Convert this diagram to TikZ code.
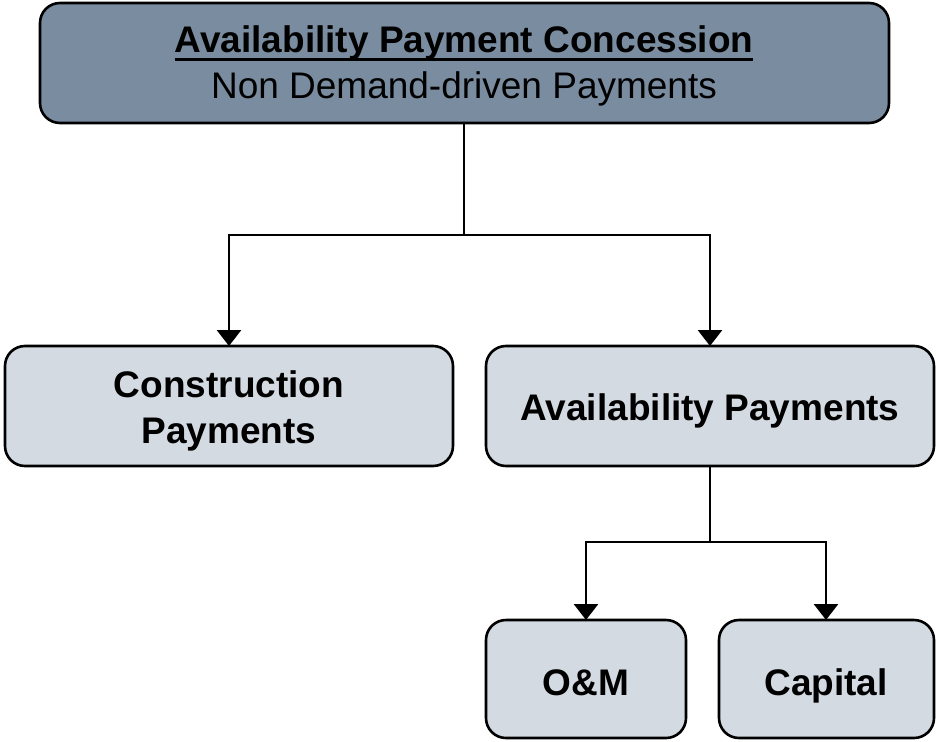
\documentclass[tikz,border=0pt]{standalone}
\usepackage{fontspec}
\setmainfont{Liberation Sans}
\usetikzlibrary{arrows.meta}
\definecolor{topfill}{HTML}{7A8CA0}
\definecolor{boxfill}{HTML}{D3DAE1}
\begin{document}
\begin{tikzpicture}[x=1pt,y=-1pt,
  box/.style={draw=black,line width=2.6pt,rounded corners=20pt,fill=boxfill},
  link/.style={line width=2.9pt,draw=black},
  arrowlink/.style={link,-{Triangle[length=16pt,width=24pt]}},
  lbl/.style={font=\fontsize{37}{46}\selectfont\bfseries,align=center,inner sep=0pt,anchor=base}]
\useasboundingbox (0,0) rectangle (936,741);
% boxes
\draw[box,fill=topfill] (40,3) rectangle (889,123);
\node[lbl] (topA) at (464,53) {Availability Payment Concession};
\draw[line width=3pt] ([yshift=-7pt]topA.base west) -- ([yshift=-7pt]topA.base east);
\node[font=\fontsize{37}{46}\selectfont,anchor=base,inner sep=0pt] (topB) at (464,99) {Non Demand-driven Payments};
\coordinate (top) at (464,123);
\draw[box] (5,346) rectangle (453,466);
\node[lbl] (constrA) at (229,397) {Construction};
\node[lbl] (constrB) at (229,443) {Payments};
\draw[box] (486,346) rectangle (934,466);
\node[lbl] (avail) at (710,420) {Availability Payments};
\draw[box] (486,620) rectangle (686,738);
\node[lbl] (om) at (586,695) {O\&M};
\draw[box] (719,620) rectangle (934,738);
\node[lbl] (cap) at (826,695) {Capital};
% connectors
\coordinate (c1top) at (229,346);
\coordinate (a1top) at (710,346);
\coordinate (a1bot) at (710,466);
\coordinate (omtop) at (586,620);
\coordinate (captop) at (826,620);
\coordinate (split1) at (464,235);
\coordinate (split2) at (710,542);
\draw[link] (top) -- (split1);
\draw[arrowlink] (split1) -| (c1top);
\draw[arrowlink] (split1) -| (a1top);
\draw[link] (a1bot) -- (split2);
\draw[arrowlink] (split2) -| (omtop);
\draw[arrowlink] (split2) -| (captop);
\end{tikzpicture}
\end{document}
